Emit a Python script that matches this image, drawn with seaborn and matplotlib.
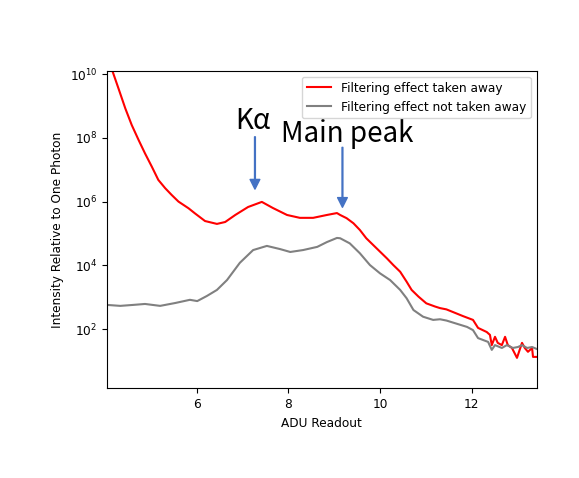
import numpy as np
import pandas as pd
import seaborn as sns
import matplotlib.pyplot as plt
from matplotlib.ticker import NullLocator

# ADU readout positions and log10 of intensity
red_adu = [4.04, 4.15, 4.29, 4.44, 4.58, 4.73, 4.87, 5.02, 5.16, 5.31, 5.45,
           5.60, 5.82, 5.96, 6.18, 6.44, 6.62, 6.84, 7.12, 7.42, 7.66, 7.97,
           8.25, 8.54, 8.84, 9.06, 9.13, 9.27, 9.42, 9.56, 9.70, 9.85, 10.00,
           10.15, 10.29, 10.44, 10.58, 10.69, 10.84, 11.01, 11.20, 11.31,
           11.45, 11.81, 12.03, 12.14, 12.33, 12.40, 12.44, 12.51, 12.57,
           12.66, 12.73, 12.79, 12.88, 12.99, 13.10, 13.16, 13.23, 13.32,
           13.34, 13.42]
red_log10 = [10.60, 10.13, 9.55, 8.92, 8.40, 7.93, 7.51, 7.09, 6.68, 6.42, 6.21,
             6.00, 5.79, 5.63, 5.39, 5.30, 5.36, 5.58, 5.83, 5.99, 5.80, 5.58,
             5.49, 5.49, 5.58, 5.64, 5.58, 5.48, 5.32, 5.11, 4.85, 4.64, 4.43,
             4.22, 4.01, 3.80, 3.49, 3.23, 3.02, 2.81, 2.71, 2.66,
             2.62, 2.41, 2.29, 2.04, 1.91, 1.82, 1.50, 1.76, 1.57,
             1.50, 1.76, 1.50, 1.41, 1.10, 1.57, 1.41, 1.29, 1.41,
             1.13, 1.13]

gray_adu = [4.04, 4.33, 4.61, 4.87, 5.20, 5.53, 5.85, 6.01, 6.22, 6.44, 6.66,
            6.94, 7.23, 7.53, 7.82, 8.04, 8.32, 8.63, 8.84, 9.06, 9.13, 9.34,
            9.56, 9.78, 10.00, 10.22, 10.44, 10.58, 10.73, 10.94, 11.16,
            11.31, 11.45, 11.90, 12.03, 12.14, 12.36, 12.44, 12.51, 12.66,
            12.77, 12.90, 13.01, 13.10, 13.21, 13.32, 13.42]
gray_log10 = [2.76, 2.73, 2.76, 2.79, 2.73, 2.82, 2.92, 2.88, 3.04, 3.23, 3.54,
              4.08, 4.48, 4.61, 4.51, 4.42, 4.48, 4.58, 4.73, 4.86, 4.85, 4.69,
              4.38, 4.01, 3.75, 3.54, 3.23, 2.97, 2.60, 2.39, 2.29,
              2.31, 2.27, 2.07, 1.97, 1.72, 1.60, 1.35, 1.50, 1.41,
              1.50, 1.41, 1.44, 1.50, 1.41, 1.44, 1.38]

series_names = ["Filtering effect taken away", "Filtering effect not taken away"]
series_colors = ["red", "gray"]

df = pd.concat([
    pd.DataFrame({"adu": red_adu, "intensity": 10 ** np.array(red_log10),
                  "series": series_names[0]}),
    pd.DataFrame({"adu": gray_adu, "intensity": 10 ** np.array(gray_log10),
                  "series": series_names[1]}),
])

plt.rcParams["font.size"] = 8.7
fig = plt.figure(figsize=(5.79, 4.78), dpi=100)
ax = fig.add_axes([0.1848, 0.1877, 0.9269 - 0.1848, 0.8521 - 0.1877])

sns.lineplot(data=df, x="adu", y="intensity", hue="series",
             palette=dict(zip(series_names, series_colors)),
             linewidth=1.5, sort=False, ax=ax)
ax.set_yscale("log")
ax.set_xlim(4.04, 13.42)
ax.set_ylim(1.4, 1.27e10)
ax.set_xticks([6, 8, 10, 12])
ax.set_yticks([1e2, 1e4, 1e6, 1e8, 1e10])
ax.yaxis.set_minor_locator(NullLocator())
ax.set_xlabel("ADU Readout")
ax.set_ylabel("Intensity Relative to One Photon")
ax.legend(loc="upper right", fontsize=8.7)

# peak annotations
arrow = dict(color="#4472C4", width=0.6, headwidth=7, headlength=7, shrink=0)
ax.annotate("", xy=(7.27, 10 ** 6.39), xytext=(7.27, 10 ** 8.03), arrowprops=arrow)
ax.annotate("", xy=(9.18, 10 ** 5.82), xytext=(9.18, 10 ** 7.70), arrowprops=arrow)
ax.text(7.22, 10 ** 8.28, "Kα", fontsize=20, ha="center", va="baseline",
        family=["Noto Sans CJK SC", "DejaVu Sans"])
ax.text(9.28, 10 ** 7.88, "Main peak", fontsize=20, ha="center", va="baseline",
        family=["Noto Sans CJK SC", "DejaVu Sans"])

plt.savefig("out.png")
plt.close(fig)
